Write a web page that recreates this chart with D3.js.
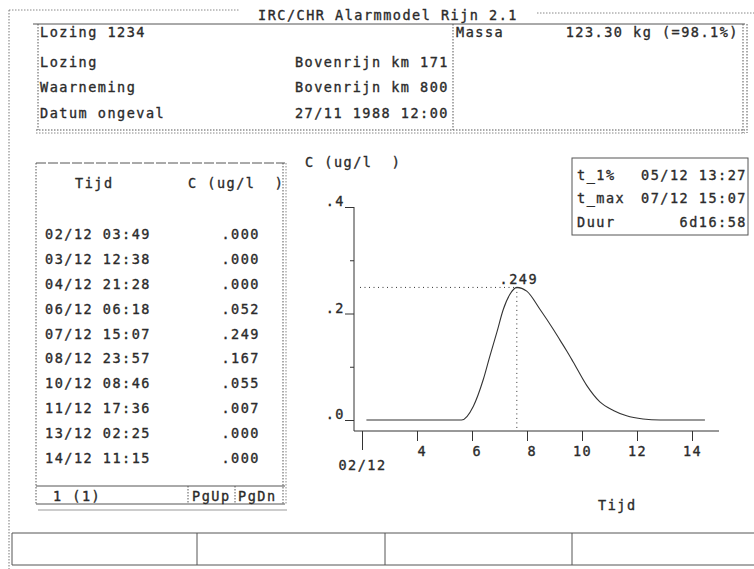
<!DOCTYPE html>
<html><head><meta charset="utf-8">
<script src="https://cdn.jsdelivr.net/npm/d3@7"></script>
<style>
html,body{margin:0;padding:0;background:#fff;}
svg text{font-family:"DejaVu Sans Mono",monospace;font-size:13.5px;fill:#2b2b2b;stroke:#2b2b2b;stroke-width:0.35px;letter-spacing:1.5px;white-space:pre;dominant-baseline:central;}
</style></head><body><svg id="c" width="754" height="569"></svg>
<script>
// Screen content
const title = "IRC/CHR Alarmmodel Rijn 2.1";
const caseName = "Lozing 1234";
const infoLabels = ["Lozing", "Waarneming", "Datum ongeval"];
const infoValues = ["Bovenrijn km 171", "Bovenrijn km 800", "27/11 1988 12:00"];
const massLabel = "Massa";
const massValue = "123.30 kg (=98.1%)";
const unitLabel = "C (ug/l  )";
const timeLabel = "Tijd";

// Tabulated concentrations
const tableTimes = ["02/12 03:49", "03/12 12:38", "04/12 21:28", "06/12 06:18", "07/12 15:07",
                    "08/12 23:57", "10/12 08:46", "11/12 17:36", "13/12 02:25", "14/12 11:15"];
const tableValues = [0.000, 0.000, 0.000, 0.052, 0.249, 0.167, 0.055, 0.007, 0.000, 0.000];
const pageLabel = "1 (1)";
const pageButtons = ["PgUp", "PgDn"];

// Summary statistics
const statLabels = ["t_1%", "t_max", "Duur"];
const statValues = ["05/12 13:27", "07/12 15:07", "6d16:58"];

// Concentration curve (day of December, ug/l)
const curveDays   = [2.16, 5.62, 6.05, 6.41, 6.65, 6.90, 7.14, 7.38, 7.63, 7.99, 8.47, 8.96,
                     9.20, 9.44, 9.68, 10.17, 10.65, 11.14, 11.62, 12.22, 12.84, 14.47];
const curveValues = [0, 0, 0.026, 0.076, 0.120, 0.164, 0.208, 0.236, 0.249, 0.242, 0.208, 0.170,
                     0.150, 0.130, 0.109, 0.065, 0.034, 0.018, 0.008, 0.002, 0, 0];

// Axis ticks
const xTicks = [2, 4, 6, 8, 10, 12, 14];
const xFirstLabel = "02/12";
const yTicks = [0, 0.1, 0.2, 0.3, 0.4];
const yLabelled = [0, 0.2, 0.4];

const svg = d3.select("#c");
const ink = "#333", line = "#555";
const dec = v => d3.format(".3f")(v).replace(/^0/, "");

function seg(x1, y1, x2, y2, dash, color, w) {
  svg.append("line").attr("x1", x1).attr("y1", y1).attr("x2", x2).attr("y2", y2)
    .attr("stroke", color || line).attr("stroke-width", w || 1)
    .attr("stroke-dasharray", dash || null);
}
function txt(x, y, s, anchor) {
  return svg.append("text").attr("x", x).attr("y", y).attr("text-anchor", anchor || "start").text(s);
}
const dot = "1.5,1.5";

// Outer frame with title
seg(9, 10, 240, 10, dot, "#888");
seg(537, 13, 754, 13, dot, "#888");
seg(9, 10, 9, 569, dot, "#777");
txt(258, 15, title);

// Case information panel
seg(33, 24, 745, 24, null, line);
seg(38, 24, 38, 130, dot, line);
seg(36, 130, 745, 130, dot, line);
seg(36, 133, 745, 133, dot, "#888");
seg(743, 24, 743, 133, dot, line);
seg(747, 24, 747, 133, dot, line);
seg(453, 24, 453, 130, dot, line);
txt(40, 32, caseName);
const infoY = [62, 87, 113];
infoLabels.forEach((s, i) => txt(40, infoY[i], s));
infoValues.forEach((s, i) => txt(449, infoY[i], s, "end"));
txt(456, 32, massLabel);
txt(739, 32, massValue, "end");

// Table panel
const tb = {x0: 36, x1: 285, y0: 163, y1: 504};
seg(tb.x0, tb.y0, tb.x1, tb.y0, "10,2", line);
seg(tb.x0, tb.y0, tb.x0, tb.y1, dot, line);
seg(tb.x1 - 2, tb.y0, tb.x1 - 2, tb.y1, dot, line);
seg(tb.x1 + 1, tb.y0, tb.x1 + 1, tb.y1, dot, "#888");
txt(75, 183, "Tijd");
txt(188, 183, unitLabel);
const rowY = d3.scaleLinear().domain([0, tableTimes.length - 1]).range([234, 458]);
tableTimes.forEach((t, i) => {
  txt(45, rowY(i), t);
  txt(260, rowY(i), dec(tableValues[i]), "end");
});
seg(tb.x0, 486, tb.x1, 486, null, line);
seg(tb.x0, tb.y1, tb.x1, tb.y1, null, line);
seg(38, 510, 287, 510, null, "#999");
seg(188, 486, 188, tb.y1, dot, line);
seg(235, 486, 235, tb.y1, dot, line);
txt(53, 496, pageLabel);
txt(192, 496, pageButtons[0]);
txt(238, 496, pageButtons[1]);

// Statistics box
svg.append("rect").attr("x", 572).attr("y", 158).attr("width", 176).attr("height", 77)
  .attr("fill", "none").attr("stroke", line);
const statY = [175, 198, 222];
statLabels.forEach((s, i) => txt(577, statY[i], s));
statValues.forEach((s, i) => txt(747, statY[i], s, "end"));

// Chart
const x = d3.scaleLinear().domain([2, 14]).range([362, 692]);
const y = d3.scaleLinear().domain([0, 0.4]).range([420, 207]);
const axisY = 431, axisX = 354;

txt(305, 162, unitLabel);
txt(598, 505, timeLabel);

// y axis
const yAxis = svg.append("g").attr("transform", `translate(${axisX},0)`)
  .call(d3.axisLeft(y).tickValues(yTicks).tickSize(9)
    .tickFormat(d => yLabelled.includes(d) ? d3.format(".1f")(d).replace(/^0/, "") : ""));
yAxis.select(".domain").remove();
yAxis.selectAll(".tick line").attr("stroke", ink)
  .attr("x2", d => yLabelled.includes(d) ? -9 : -4);
yAxis.selectAll(".tick text").attr("x", -9).attr("dy", "-0.45em")
  .attr("font-family", null).attr("font-size", null).attr("fill", null);
seg(axisX, y(0.4), axisX, axisY, null, ink);

// x axis
const xAxis = svg.append("g").attr("transform", `translate(0,${axisY})`)
  .call(d3.axisBottom(x).tickValues(xTicks).tickSize(10)
    .tickFormat(d => d === xTicks[0] ? xFirstLabel : d3.format("2d")(d)));
xAxis.select(".domain").remove();
xAxis.selectAll(".tick line").attr("stroke", ink).attr("y2", d => d === xTicks[0] ? 19 : 10);
xAxis.selectAll(".tick text").attr("font-family", null).attr("font-size", null).attr("fill", null)
  .attr("y", d => d === xTicks[0] ? 34 : 20).attr("dy", null);
seg(axisX, axisY, 719, axisY, null, ink);

// Curve
const pts = curveDays.map((d, i) => [d, curveValues[i]]);
svg.append("path").datum(pts)
  .attr("fill", "none").attr("stroke", ink).attr("stroke-width", 1.1)
  .attr("d", d3.line().x(d => x(d[0])).y(d => y(d[1])).curve(d3.curveMonotoneX));

// Peak marker
const peak = pts.reduce((a, b) => b[1] > a[1] ? b : a);
seg(360, y(peak[1]), x(peak[0]), y(peak[1]), "1,3.5", ink);
seg(x(peak[0]), y(peak[1]), x(peak[0]), axisY, "1,3.5", ink);
txt(x(peak[0]) + 2, y(peak[1]) - 8, dec(peak[1]), "middle");

// Bottom button bar
seg(12, 533, 754, 533, null, line);
seg(12, 565, 754, 565, null, line);
seg(12, 533, 12, 565, null, line);
[197, 385, 572].forEach(v => seg(v, 533, v, 565, null, line));
</script></body></html>
